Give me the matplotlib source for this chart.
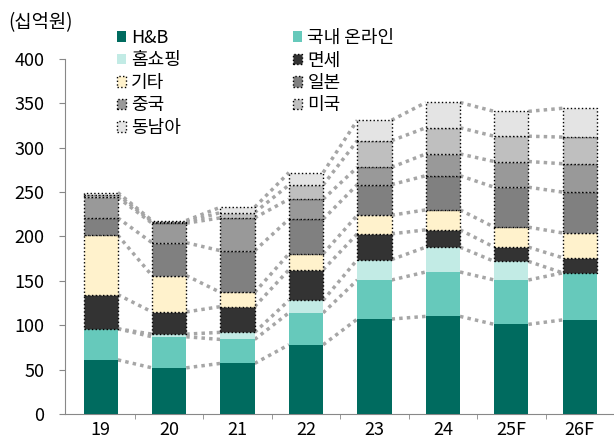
import numpy as np
import matplotlib.pyplot as plt
from matplotlib.patches import Patch

plt.rcParams['font.family'] = ['Noto Sans CJK KR', 'DejaVu Sans']

# 연도별 채널 매출 (십억원), 그림에서 읽은 값
years = ['19', '20', '21', '22', '23', '24', '25F', '26F']
channels = ['H&B', '국내 온라인', '홈쇼핑', '면세', '기타', '일본', '중국', '미국', '동남아']
hnb = [61, 52, 57, 78, 107, 110, 101, 106]
online = [35, 35, 27, 36, 44, 50, 50, 53]
homeshop = [0, 3, 8, 14, 23, 28, 21, 0]
dutyfree = [38.5, 25, 29, 34.5, 29, 19.5, 16, 17]
etc = [67, 41, 16, 18, 21, 22.5, 22.5, 28]
japan = [19.5, 37, 47, 39, 34.5, 38.5, 45, 46]
china = [23, 22, 37, 22.5, 19.5, 24.5, 29, 32]
usa = [3, 1.5, 6, 16, 30, 29.5, 28.5, 30]
sea = [2.5, 1.5, 6, 14, 23, 28.5, 28, 32.5]

series = [hnb, online, homeshop, dutyfree, etc, japan, china, usa, sea]
colors = ['#006b5f', '#66c9bb', '#c2ebe5', '#333333', '#fff2cc',
          '#808080', '#999999', '#bfbfbf', '#e4e4e4']
dotted = [False, False, False, True, True, True, True, True, True]

fig = plt.figure(figsize=(6.14, 4.44), dpi=100)
ax = fig.add_axes([0.106, 0.0676, 0.894, 0.7995])

x = np.arange(len(years))
w = 0.5
bottom = np.zeros(len(years))
tops = []
for vals, c, d in zip(series, colors, dotted):
    vals = np.array(vals, dtype=float)
    if d:
        ax.bar(x, vals, w, bottom=bottom, color=c, edgecolor='black',
               linestyle=':', linewidth=1.0, zorder=3)
    else:
        ax.bar(x, vals, w, bottom=bottom, color=c, linewidth=0, zorder=3)
    bottom = bottom + vals
    tops.append(bottom.copy())

# 막대 사이 점선 연결
for t in tops:
    for i in range(len(years) - 1):
        ax.plot([x[i] + w / 2, x[i + 1] - w / 2], [t[i], t[i + 1]],
                color='#a6a6a6', linestyle=(0, (1, 1.2)), linewidth=2.5,
                zorder=2)

ax.set_xlim(-0.52, 7.5)
ax.set_ylim(0, 400)
ax.set_yticks(range(0, 401, 50))
ax.set_xticks(x)
ax.set_xticklabels(years)
ax.set_xticks(np.arange(0.5, 7.6, 1), minor=True)
ax.tick_params(axis='x', which='major', length=0, labelsize=13, pad=5)
ax.tick_params(axis='x', which='minor', length=3.5, color='#888888')
ax.tick_params(axis='y', length=4, color='#888888', labelsize=13, pad=11)
for s in ['top', 'right']:
    ax.spines[s].set_visible(False)
for s in ['left', 'bottom']:
    ax.spines[s].set_color('#888888')

fig.text(0.013, 0.95, '(십억원)', fontsize=13.5, va='center')

handles = []
for name, c, d in zip(channels, colors, dotted):
    if d:
        handles.append(Patch(facecolor=c, edgecolor='black', linestyle=':',
                             linewidth=1.0, label=name))
    else:
        handles.append(Patch(facecolor=c, edgecolor='none', label=name))
order = [0, 2, 4, 6, 8, 1, 3, 5, 7]
leg = fig.legend([handles[i] for i in order], [channels[i] for i in order],
                 ncol=2, loc='upper left', bbox_to_anchor=(0.19, 0.935),
                 frameon=False, fontsize=13, handlelength=0.5,
                 handleheight=0.5, handletextpad=0.3, labelspacing=0.25,
                 columnspacing=6.2, borderaxespad=0, borderpad=0)

fig.savefig('out.png', dpi=100)
